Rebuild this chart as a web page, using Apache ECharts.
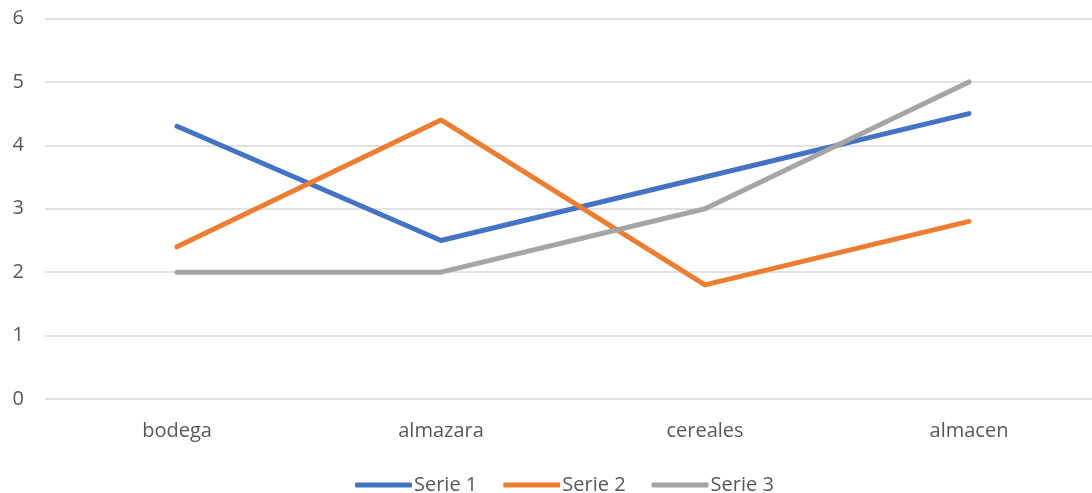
<!DOCTYPE html>
<html>
<head>
<meta charset="utf-8">
<script src="https://cdn.jsdelivr.net/npm/echarts@6/dist/echarts.min.js"></script>
<style>
  html, body { margin: 0; padding: 0; background: #fff; overflow: hidden; }
  #chart { width: 1102px; height: 493px; }
</style>
</head>
<body>
<div id="chart"></div>
<script>
// datos
const categories = ['bodega', 'almazara', 'cereales', 'almacen']
const serie1 = [4.3, 2.5, 3.5, 4.5]
const serie2 = [2.4, 4.4, 1.8, 2.8]
const serie3 = [2, 2, 3, 5]
const yTicks = [0, 1, 2, 3, 4, 5, 6]

const colors = ['#4472C4', '#ED7D31', '#A5A5A5']
const font = 'Open Sans, Noto Sans, sans-serif'

// el grafico se sale un poco por la derecha, como en el original
const chart = echarts.init(document.getElementById('chart'))

const makeSerie = (name, data, color) => ({
  name,
  type: 'line',
  data,
  symbol: 'none',
  lineStyle: { width: 5, color, cap: 'round', join: 'round' },
  itemStyle: { color },
  animation: false
})

chart.setOption({
  animation: false,
  grid: { left: 45, top: 18.5, width: 1056, height: 380.5, containLabel: false },
  legend: {
    top: 470,
    left: 350,
    itemWidth: 57,
    itemHeight: 5,
    itemGap: 26,
    icon: 'roundRect',
    textStyle: { color: '#595959', fontSize: 20, fontFamily: font, padding: [0, 0, 0, -3] },
    data: ['Serie 1', 'Serie 2', 'Serie 3']
  },
  xAxis: {
    type: 'category',
    data: categories,
    axisLine: { show: false },
    axisTick: { show: false },
    axisLabel: { color: '#595959', fontSize: 20, fontFamily: font, margin: 22 }
  },
  yAxis: {
    type: 'value',
    min: yTicks[0],
    max: yTicks[yTicks.length - 1],
    interval: 1,
    axisLine: { show: false },
    axisTick: { show: false },
    axisLabel: { color: '#595959', fontSize: 20, fontFamily: font, margin: 21 },
    splitLine: { lineStyle: { color: '#D9D9D9', width: 1.5 } }
  },
  series: [
    makeSerie('Serie 1', serie1, colors[0]),
    makeSerie('Serie 2', serie2, colors[1]),
    makeSerie('Serie 3', serie3, colors[2])
  ]
})
</script>
</body>
</html>
